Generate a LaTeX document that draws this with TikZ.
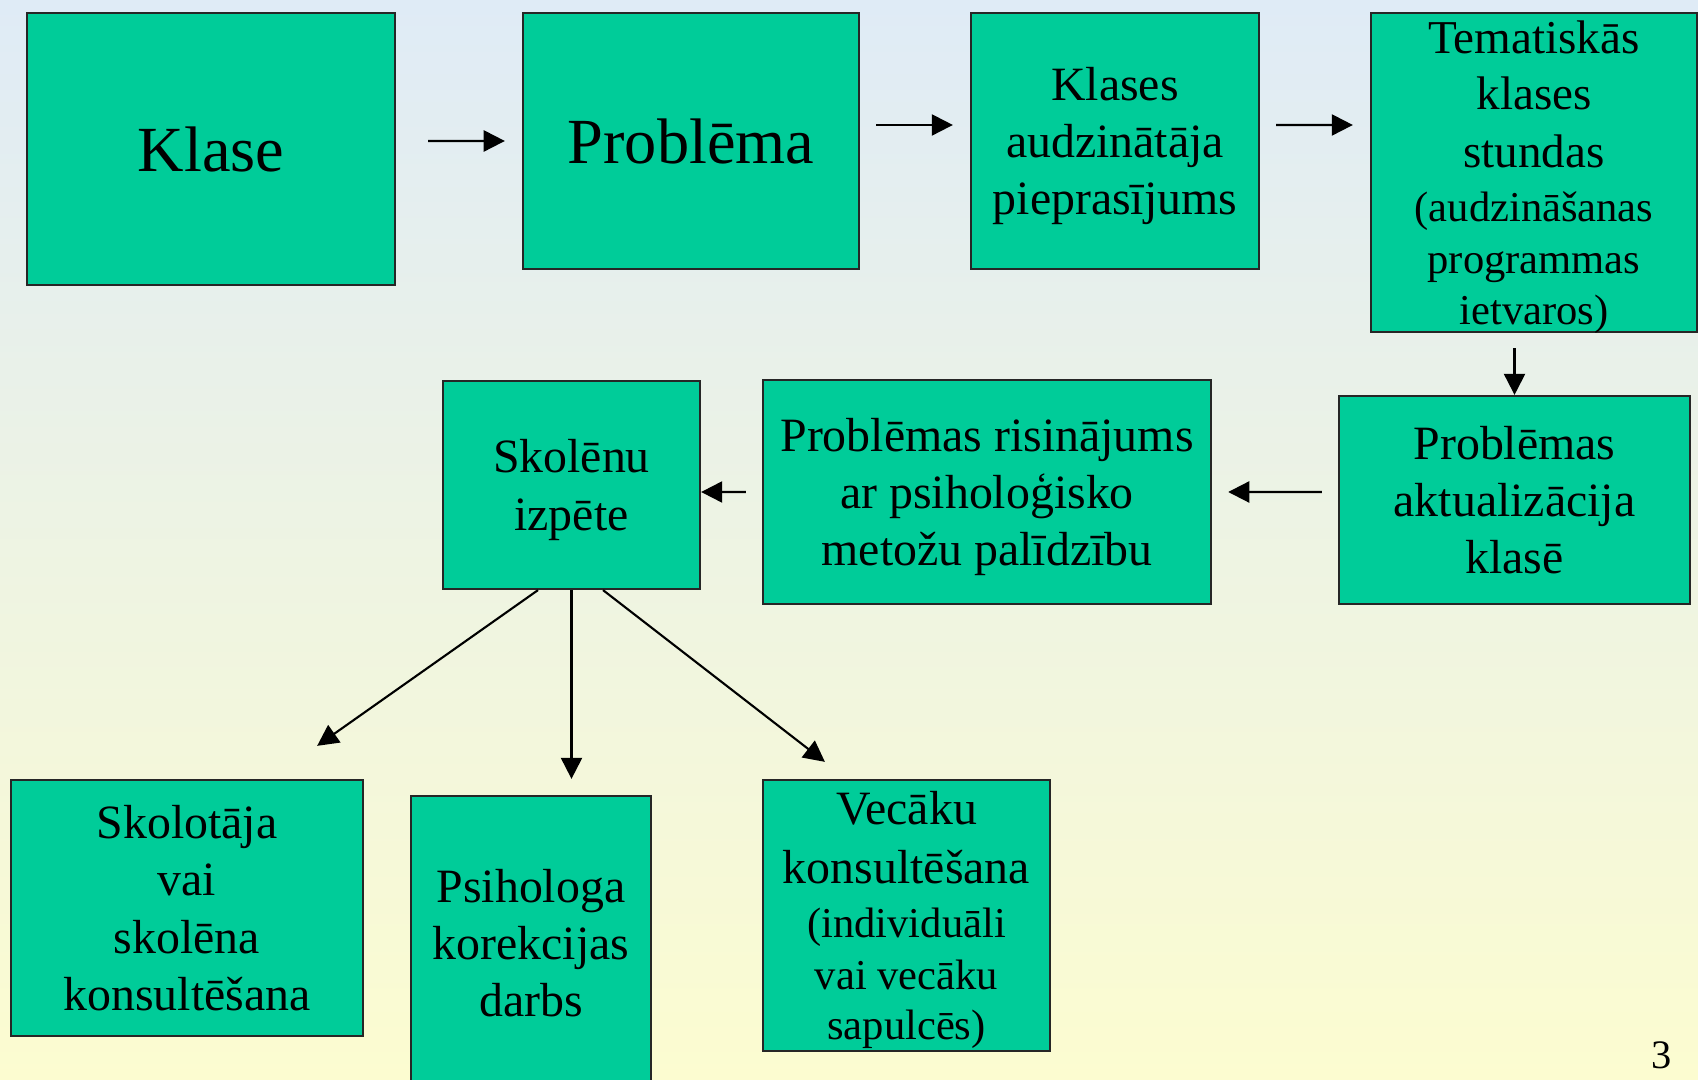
\documentclass[tikz,border=0pt]{standalone}
\usepackage{fontspec}
\setmainfont{Liberation Serif}
\usetikzlibrary{arrows.meta,calc}
\definecolor{BoxClr}{rgb}{0,0.8,0.6}
\definecolor{TopClr}{rgb}{0.875,0.922,0.965}
\definecolor{BotClr}{rgb}{0.988,0.988,0.816}

\begin{document}
\begin{tikzpicture}[x=0.01cm,y=-0.01cm,
  box/.style={draw=black!85,line width=0.6pt,fill=BoxClr,align=center,inner sep=0pt,
    font=\fontsize{13.6}{16.3}\selectfont,text depth=-1pt},
  bigbox/.style={box,font=\fontsize{18.3}{22}\selectfont,text depth=-2.2pt},
  flow/.style={-{Triangle[length=6pt,width=6pt]},line width=0.6pt}]

\useasboundingbox (0,0) rectangle (1698,1080);
\shade[top color=TopClr,bottom color=BotClr] (0,0) rectangle (1698,1080);

% first row
\node[bigbox,minimum width=3.68cm,minimum height=2.72cm] (klase) at (211,149) {Klase};
\node[bigbox,minimum width=3.36cm,minimum height=2.56cm] (problema) at (691,141) {Problēma};
\node[box,minimum width=2.88cm,minimum height=2.56cm] (pieprasijums) at (1115,141)
  {Klases\\audzinātāja\\pieprasījums};
\node[box,minimum width=3.26cm,minimum height=3.19cm,font=\fontsize{13.4}{14.5}\selectfont] (tematiskas) at (1534,172.5)
  {Tematiskās\\[1.4pt]klases\\[2.1pt]stundas\\[0.9pt]{\fontsize{12.1}{14.5}\selectfont(audzināšanas}\\[0.3pt]
   {\fontsize{12.1}{14.5}\selectfont programmas}\\{\fontsize{12.1}{14.5}\selectfont ietvaros)}};

% second row
\node[box,minimum width=3.51cm,minimum height=2.08cm] (aktualizacija) at (1514.5,500)
  {Problēmas\\aktualizācija\\klasē};
\node[box,minimum width=4.48cm,minimum height=2.24cm] (risinajums) at (987,492)
  {Problēmas risinājums\\ar psiholoģisko\\metožu palīdzību};
\node[box,minimum width=2.57cm,minimum height=2.08cm] (izpete) at (571.5,485)
  {Skolēnu\\izpēte};

% third row
\node[box,minimum width=3.52cm,minimum height=2.56cm] (skolotaja) at (187,908)
  {Skolotāja\\vai\\skolēna\\konsultēšana};
\node[box,minimum width=2.40cm,minimum height=2.94cm] (psihologa) at (531,943)
  {Psihologa\\korekcijas\\darbs};
\node[box,minimum width=2.87cm,minimum height=2.71cm,font=\fontsize{13.6}{14.2}\selectfont] (vecaku) at (906.5,915.5)
  {Vecāku\\[2.4pt]konsultēšana\\[1.2pt]{\fontsize{12.1}{14.2}\selectfont(individuāli}\\[0.6pt]
   {\fontsize{12.1}{14.2}\selectfont vai vecāku}\\{\fontsize{12.1}{14.2}\selectfont sapulcēs)}};

\draw[flow] ([xshift=.32cm,yshift=.08cm]klase.east) -- ([xshift=-.17cm]problema.west);
\draw[flow] ([xshift=.16cm,yshift=.16cm]problema.east) -- ([xshift=-.17cm,yshift=.16cm]pieprasijums.west);
\draw[flow] ([xshift=.16cm,yshift=.16cm]pieprasijums.east) -- ($(tematiskas.west |- pieprasijums.east)+(-17,-16)$);
\draw[flow] ([yshift=-.15cm]tematiskas.south -| aktualizacija.north) -- (aktualizacija.north);
\draw[flow] ([xshift=-.16cm,yshift=.08cm]aktualizacija.west) -- ([xshift=.16cm]risinajums.east);
\draw[flow] ([xshift=-.16cm]risinajums.west) -- ([yshift=-.07cm]izpete.east);
\draw[flow] ([xshift=-.335cm]izpete.south) -- ([xshift=-.47cm,yshift=.33cm]skolotaja.north east);
\draw[flow] (izpete.south) -- (izpete.south |- skolotaja.north);
\draw[flow] ([xshift=.315cm]izpete.south) -- ([xshift=.63cm,yshift=.17cm]vecaku.north west);

\node[font=\fontsize{11.5}{13}\selectfont] (lpp) at (1662,1055) {3};

\end{tikzpicture}
\end{document}
